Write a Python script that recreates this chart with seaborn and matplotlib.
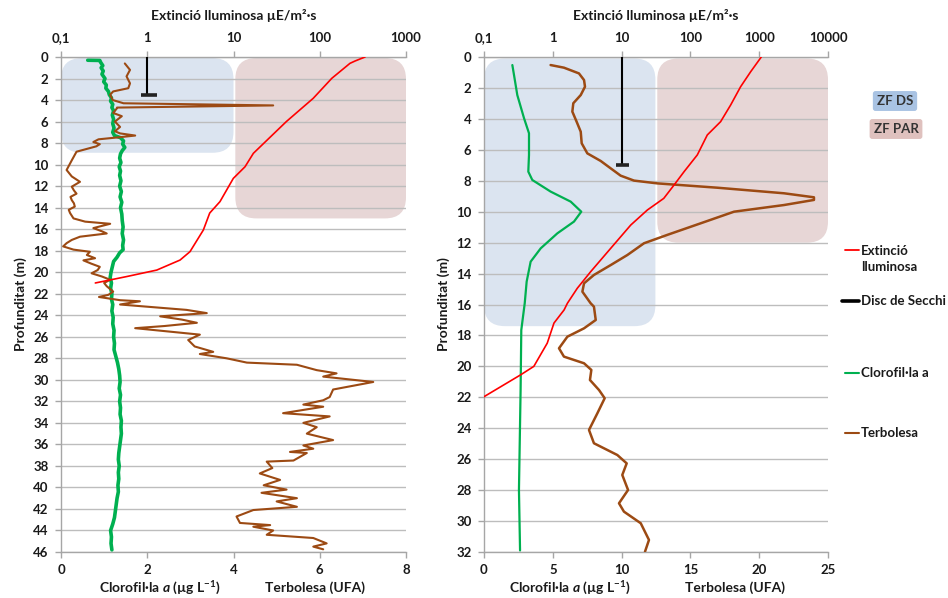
import numpy as np
import pandas as pd
import matplotlib
matplotlib.use("Agg")
import matplotlib.pyplot as plt
import seaborn as sns
from matplotlib.patches import FancyBboxPatch
from matplotlib.lines import Line2D
from matplotlib.ticker import NullLocator, FixedLocator

# ---------------- DATA ----------------
# Left panel (depth in m)
ext_left_depth = [0.0, 0.37, 0.59, 1.98, 3.84, 6.0, 8.95, 10.2, 11.28, 13.44, 14.5, 16.08, 18.09, 18.87,
                  19.8, 20.4, 21.0]
ext_left_value = [335, 257, 224, 138, 84, 41, 17, 13.6, 9.95, 6.97, 5.3, 4.47, 3.13, 2.4,
                  1.29, 0.58, 0.25]

chl_left_depth = [0.30, 0.32, 0.5, 0.8, 1.0, 1.3, 1.6, 2.0, 2.3, 2.6, 2.9, 3.2, 3.5, 3.8, 4.1, 4.4, 4.7, 5.0, 5.4,
                  5.8, 6.2, 6.6, 7.0, 7.3, 7.5, 7.8, 8.1, 8.4, 8.7, 9.0, 9.4, 9.8, 10.2, 10.6, 11.0, 11.5, 12.0,
                  12.5, 13.0, 13.5, 14.0, 14.6, 15.2, 15.8, 16.4, 17.0, 17.5, 17.9, 18.2, 18.6, 19.0, 19.5, 20.0,
                  20.5, 21.0, 21.5, 22.0, 22.5, 23.0, 23.6, 24.2, 24.8, 25.4, 26.0, 26.6, 27.2, 27.8, 28.4, 29.0,
                  29.6, 30.2, 30.8, 31.4, 32.0, 32.6, 33.2, 33.8, 34.4, 35.0, 35.6, 36.2, 36.8, 37.4, 38.0, 38.6,
                  39.2, 39.8, 40.4, 41.0, 41.6, 42.2, 42.8, 43.4, 44.0, 44.6, 45.2, 45.8]
chl_left_value = [0.62, 0.90, 0.92, 0.97, 0.93, 0.98, 0.95, 1.02, 0.99, 1.05, 1.04, 1.10, 1.12, 1.17, 1.15, 1.20, 1.18,
                  1.22, 1.19, 1.22, 1.20, 1.23, 1.20, 1.24, 1.38, 1.45, 1.43, 1.48, 1.42, 1.38, 1.36, 1.39, 1.35,
                  1.38, 1.36, 1.39, 1.36, 1.40, 1.37, 1.41, 1.38, 1.41, 1.42, 1.44, 1.42, 1.45, 1.43, 1.44, 1.36,
                  1.30, 1.22, 1.19, 1.16, 1.14, 1.17, 1.15, 1.18, 1.17, 1.20, 1.18, 1.21, 1.20, 1.23, 1.22, 1.24,
                  1.23, 1.27, 1.31, 1.34, 1.36, 1.37, 1.35, 1.38, 1.36, 1.38, 1.37, 1.40, 1.39, 1.40, 1.38, 1.36,
                  1.34, 1.33, 1.35, 1.33, 1.34, 1.32, 1.33, 1.30, 1.28, 1.26, 1.24, 1.20, 1.15, 1.17, 1.16, 1.18]

tur_left_depth = [0.6, 1.2, 1.8, 2.45, 2.9, 3.2, 3.5, 4.0, 4.30, 4.50, 4.70, 4.8, 5.2, 5.5, 6.0, 6.5, 6.9, 7.1, 7.3,
                  7.45, 7.65, 7.9, 8.1, 8.3, 8.8, 9.6, 10.5, 11.1, 11.6, 12.05, 12.4, 12.7, 13.0, 13.3, 13.6, 13.9,
                  14.2, 14.5, 15.0, 15.3, 15.5, 15.9, 16.2, 16.4, 16.7, 17.0, 17.3, 17.6, 17.9, 18.1, 18.4, 18.7,
                  18.9, 19.2, 19.5, 19.8, 20.1, 20.4, 20.7, 21.0, 21.3, 21.8, 22.1, 22.3, 22.6, 22.7, 23.0, 23.5,
                  23.8, 24.1, 24.4, 24.7, 25.0, 25.2, 25.4, 25.8, 26.3, 26.9, 27.4, 27.6, 28.0, 28.4, 28.6, 29.1,
                  29.4, 29.7, 30.2, 30.9, 31.6, 31.9, 32.3, 32.5, 33.1, 33.4, 34.0, 34.4, 35.0, 35.6, 36.1, 36.4,
                  36.7, 36.8, 37.5, 37.6, 38.2, 38.7, 39.3, 39.8, 40.2, 40.5, 41.0, 41.3, 41.8, 42.1, 42.7, 43.3,
                  43.5, 43.65, 44.0, 44.4, 44.7, 45.2, 45.5, 45.75]
tur_left_value = [1.48, 1.60, 1.52, 1.60, 1.56, 1.21, 1.14, 1.20, 1.45, 4.92, 1.30, 1.29, 1.21, 1.41, 1.25, 1.37,
                  1.25, 1.37, 1.72, 1.37, 0.87, 0.75, 0.90, 0.82, 0.36, 0.25, 0.13, 0.25, 0.44, 0.25, 0.30, 0.36,
                  0.22, 0.25, 0.30, 0.32, 0.18, 0.21, 0.29, 0.56, 1.14, 0.75, 0.95, 1.06, 0.44, 0.25, 0.13, 0.05,
                  0.29, 0.67, 0.60, 0.79, 0.52, 0.70, 0.90, 0.85, 0.71, 0.95, 1.14, 1.00, 1.06, 1.21, 1.10, 0.88,
                  1.37, 1.83, 1.37, 2.91, 3.38, 2.30, 2.80, 3.15, 2.40, 1.72, 2.22, 3.22, 2.95, 3.10, 3.53, 3.22,
                  3.84, 4.31, 5.47, 5.93, 6.39, 6.08, 7.24, 6.31, 6.23, 6.08, 5.62, 6.08, 5.15, 6.23, 5.62, 5.93,
                  5.70, 6.31, 5.62, 5.85, 5.31, 5.70, 5.39, 4.77, 4.90, 4.61, 5.08, 4.70, 5.23, 4.65, 5.47, 5.00,
                  5.47, 4.46, 4.07, 4.15, 4.85, 4.46, 4.92, 4.77, 5.85, 6.16, 5.85, 6.08]

secchi_left = 3.5          # depth (m)
secchi_left_x = 1.0        # position on light axis

# Right panel
ext_right_depth = [0.0, 0.95, 1.92, 3.1, 4.18, 5.04, 6.33, 7.41, 8.27, 9.14, 9.89, 10.86, 12.37, 13.88, 14.95,
                   15.92, 16.35, 17.2, 18.5, 20.0, 20.55, 21.96]
ext_right_value = [1072, 752, 537, 385, 275, 176, 126, 81, 58, 41, 23.7, 13.6, 6.94, 3.55, 2.27,
                   1.63, 1.46, 1.04, 0.83, 0.53, 0.34, 0.1]

chl_right_depth = [0.52, 1.16, 2.46, 3.96, 4.93, 6.33, 7.41, 7.95, 8.70, 9.35, 10.0, 10.64, 11.4, 12.37, 13.23,
                   14.52, 15.92, 17.65, 21.53, 27.99, 31.9]
chl_right_value = [2.06, 2.18, 2.42, 2.91, 3.27, 3.27, 3.22, 3.51, 4.84, 6.30, 7.07, 6.54, 5.33, 4.12, 3.39,
                   3.10, 2.96, 2.71, 2.66, 2.54, 2.62]

tur_right_depth = [0.52, 0.69, 1.06, 1.49, 1.92, 2.46, 2.99, 3.53, 4.18, 4.83, 5.58, 6.23, 6.72, 7.2, 7.67, 7.99,
                   8.17, 8.45, 8.81, 9.07, 9.24, 9.57, 10.0, 10.75, 11.5, 12.04, 12.8, 13.45, 14.09, 14.63, 15.17,
                   15.92, 16.14, 17.0, 17.54, 18.08, 18.83, 19.37, 19.8, 20.23, 20.88, 21.53, 22.06, 23.03, 24.11,
                   24.97, 25.73, 26.27, 27.02, 27.99, 28.85, 29.39, 30.14, 31.22, 31.98]
tur_right_value = [4.84, 5.81, 6.90, 7.27, 7.34, 7.03, 6.49, 6.42, 6.73, 7.03, 7.10, 7.51, 8.48, 9.21, 9.93, 10.9,
                   12.6, 16.96, 21.8, 23.98, 23.98, 21.8, 18.17, 15.75, 13.32, 11.63, 10.42, 9.21, 7.99, 7.27, 7.15,
                   7.75, 7.99, 8.12, 7.27, 6.06, 5.45, 5.81, 7.27, 7.80, 7.70, 8.36, 8.77, 8.24, 7.63,
                   7.99, 9.69, 10.37, 10.05, 10.47, 9.81, 10.17, 11.39, 11.99, 11.70]

secchi_right = 7.0
secchi_right_x = 10.0

# Shaded zones: (x0, x1) on light axis, (depth top, depth bottom)
zf_ds_left = (0.1, 10.0, 0.1, 8.9)
zf_par_left = (10.5, 1000, 0.1, 15.0)
zf_ds_right = (0.1, 31.0, 0.1, 17.4)
zf_par_right = (33.0, 10000, 0.1, 12.0)

left_log_ticks = [0.1, 1, 10, 100, 1000]
left_log_labels = ["0,1", "1", "10", "100", "1000"]
right_log_ticks = [0.1, 1, 10, 100, 1000, 10000]
right_log_labels = ["0,1", "1", "10", "100", "1000", "10000"]
left_lin_ticks = [0, 2, 4, 6, 8]
right_lin_ticks = [0, 5, 10, 15, 20, 25]

# ---------------- STYLE ----------------
sns.set_style("white")
plt.rcParams['font.family'] = ['Lato', 'DejaVu Sans']
plt.rcParams['font.weight'] = 'bold'
plt.rcParams['mathtext.fontset'] = 'custom'
plt.rcParams['mathtext.rm'] = 'Lato:bold'
plt.rcParams['mathtext.it'] = 'Lato:italic:bold'
plt.rcParams['mathtext.bf'] = 'Lato:bold'

RED = '#ff0000'
GREEN = '#00b050'
BROWN = '#9c4a13'
GRID = '#bdbdbd'
SPINE = '#a6a6a6'
TXT = '#1a1a1a'
DS_FILL = '#dbe4f0'
PAR_FILL = '#e7d6d6'
FS = 9.5

W, H = 948, 598
fig = plt.figure(figsize=(W / 100, H / 100), dpi=100)
axL = fig.add_axes([61 / W, 1 - 552 / H, 345 / W, 495 / H])
axR = fig.add_axes([484 / W, 1 - 552 / H, 344 / W, 495 / H])


def panel(ax, dmax, lin_max, lin_ticks, log_max, log_ticks, log_labels,
          ext_d, ext_v, chl_d, chl_v, chl_lw, tur_d, tur_v, tur_lw,
          sec_d, sec_x, ds_box, par_box):
    ax.set_xlim(0, lin_max)
    ax.set_ylim(dmax, 0)
    axt = ax.twiny()
    axt.set_xscale('log')
    axt.set_xlim(0.1, log_max)
    axt.set_ylim(dmax, 0)

    # shaded rounded zones (on base axes, behind everything)
    fig.canvas.draw()
    tr = axt.transData + ax.transAxes.inverted()
    bb = ax.get_window_extent()
    wpx, hpx = bb.width, bb.height
    r_px = 21
    for (x0, x1, d0, d1), col in [(ds_box, DS_FILL), (par_box, PAR_FILL)]:
        (ax0, ay0) = tr.transform((x0, d1))
        (ax1, ay1) = tr.transform((x1, d0))
        p = FancyBboxPatch((ax0, ay0), ax1 - ax0, ay1 - ay0,
                           boxstyle=f"round,pad=0,rounding_size={r_px / wpx}",
                           mutation_aspect=wpx / hpx, transform=ax.transAxes,
                           fc=col, ec='none', zorder=0.2)
        ax.add_patch(p)

    # lines on linear axis
    sns.lineplot(x=chl_v, y=chl_d, ax=ax, orient='y', sort=False, estimator=None,
                 color=GREEN, lw=chl_lw, zorder=3)
    sns.lineplot(x=tur_v, y=tur_d, ax=ax, orient='y', sort=False, estimator=None,
                 color=BROWN, lw=tur_lw, zorder=3)
    # light extinction + secchi on log axis
    sns.lineplot(x=ext_v, y=ext_d, ax=axt, orient='y', sort=False, estimator=None,
                 color=RED, lw=1.2, zorder=4)
    axt.plot([sec_x, sec_x], [0, sec_d], color='black', lw=1.5, zorder=5)
    axt.plot([sec_x * 0.84, sec_x * 1.3], [sec_d, sec_d], color='#222222', lw=2.6,
             solid_capstyle='butt', zorder=5)

    # axes cosmetics
    ax.set_yticks(np.arange(0, dmax + 1, 2))
    ax.set_xticks(lin_ticks)
    ax.yaxis.grid(True, color=GRID, lw=1.0, zorder=1)
    ax.xaxis.grid(False)
    axt.grid(False)
    for s in ['right', 'top']:
        ax.spines[s].set_visible(False)
    for s in ['left', 'bottom']:
        ax.spines[s].set_color(SPINE)
        ax.spines[s].set_linewidth(1.0)
    for s in ['left', 'right', 'bottom']:
        axt.spines[s].set_visible(False)
    axt.spines['top'].set_color(SPINE)
    axt.spines['top'].set_linewidth(1.0)
    ax.tick_params(axis='y', left=True, direction='out', length=4, width=1, color=SPINE,
                   labelsize=FS, labelcolor=TXT, pad=5)
    ax.tick_params(axis='x', bottom=True, direction='out', length=4, width=1, color=SPINE,
                   labelsize=FS, labelcolor=TXT, pad=5)
    axt.xaxis.set_major_locator(FixedLocator(log_ticks))
    axt.xaxis.set_minor_locator(NullLocator())
    axt.set_xticklabels(log_labels)
    axt.tick_params(axis='x', top=True, bottom=False, direction='out', length=4, width=1,
                    color=SPINE, labelsize=FS, labelcolor=TXT, pad=5)
    axt.tick_params(axis='y', left=False, right=False, labelleft=False, labelright=False)
    for a in (ax, axt):
        for lab in a.get_xticklabels() + a.get_yticklabels():
            lab.set_fontweight('bold')
    axt.set_ylabel('')
    ax.set_xlabel('')
    axt.set_xlabel("Extinció lluminosa µE/m²·s", fontsize=FS + 0.5, fontweight='bold', color=TXT, labelpad=9)
    ax.set_ylabel("Profunditat (m)", fontsize=FS + 0.5, fontweight='bold', color=TXT)
    ax.yaxis.set_label_coords(-0.1, 0.5)
    return axt


panel(axL, 46, 8, left_lin_ticks, 1000, left_log_ticks, left_log_labels,
      ext_left_depth, ext_left_value, chl_left_depth, chl_left_value, 2.6,
      tur_left_depth, tur_left_value, 1.5, secchi_left, secchi_left_x, zf_ds_left, zf_par_left)
panel(axR, 32, 25, right_lin_ticks, 10000, right_log_ticks, right_log_labels,
      ext_right_depth, ext_right_value, chl_right_depth, chl_right_value, 1.6,
      tur_right_depth, tur_right_value, 1.8, secchi_right, secchi_right_x, zf_ds_right, zf_par_right)

# bottom axis labels
chl_label = r"Clorofil·la $\mathit{a}$ (µg L$^{-1}$)"
for ax, xc, xt in [(axL, 0.287, 0.736), (axR, 0.25, 0.73)]:
    ax.text(xc, -0.073, chl_label, transform=ax.transAxes, ha='center', va='center',
            fontsize=FS + 0.5, fontweight='bold', color=TXT)
    ax.text(xt, -0.073, "Terbolesa (UFA)", transform=ax.transAxes, ha='center', va='center',
            fontsize=FS + 0.5, fontweight='bold', color=TXT)

# zone labels
fig.text(895 / W, 1 - 101 / H, "ZF DS", ha='center', va='center', fontsize=FS, fontweight='bold',
         color='#333333', bbox=dict(boxstyle='round,pad=0.3,rounding_size=0.2', fc='#a9c3e3', ec='none'))
fig.text(896 / W, 1 - 129 / H, "ZF PAR", ha='center', va='center', fontsize=FS, fontweight='bold',
         color='#333333', bbox=dict(boxstyle='round,pad=0.3,rounding_size=0.2', fc='#dfc1be', ec='none'))

# legend (manual, outside right)
legend_items = [("Extinció\nlluminosa", RED, 1.3, 250, 259),
                ("Disc de Secchi", 'black', 2.6, 301, 301),
                ("Clorofil·la a", GREEN, 1.5, 373, 373),
                ("Terbolesa", BROWN, 1.5, 433, 433)]
for label, col, lw, yl, yt in legend_items:
    x0 = 845 if col != 'black' else 842
    fig.add_artist(Line2D([x0 / W, 859 / W], [1 - yl / H, 1 - yl / H], color=col, lw=lw,
                          transform=fig.transFigure))
    fig.text(861 / W, 1 - yt / H, label, ha='left', va='center', fontsize=FS, fontweight='bold',
             color=TXT, linespacing=1.35)

fig.savefig("out.png", dpi=100)
